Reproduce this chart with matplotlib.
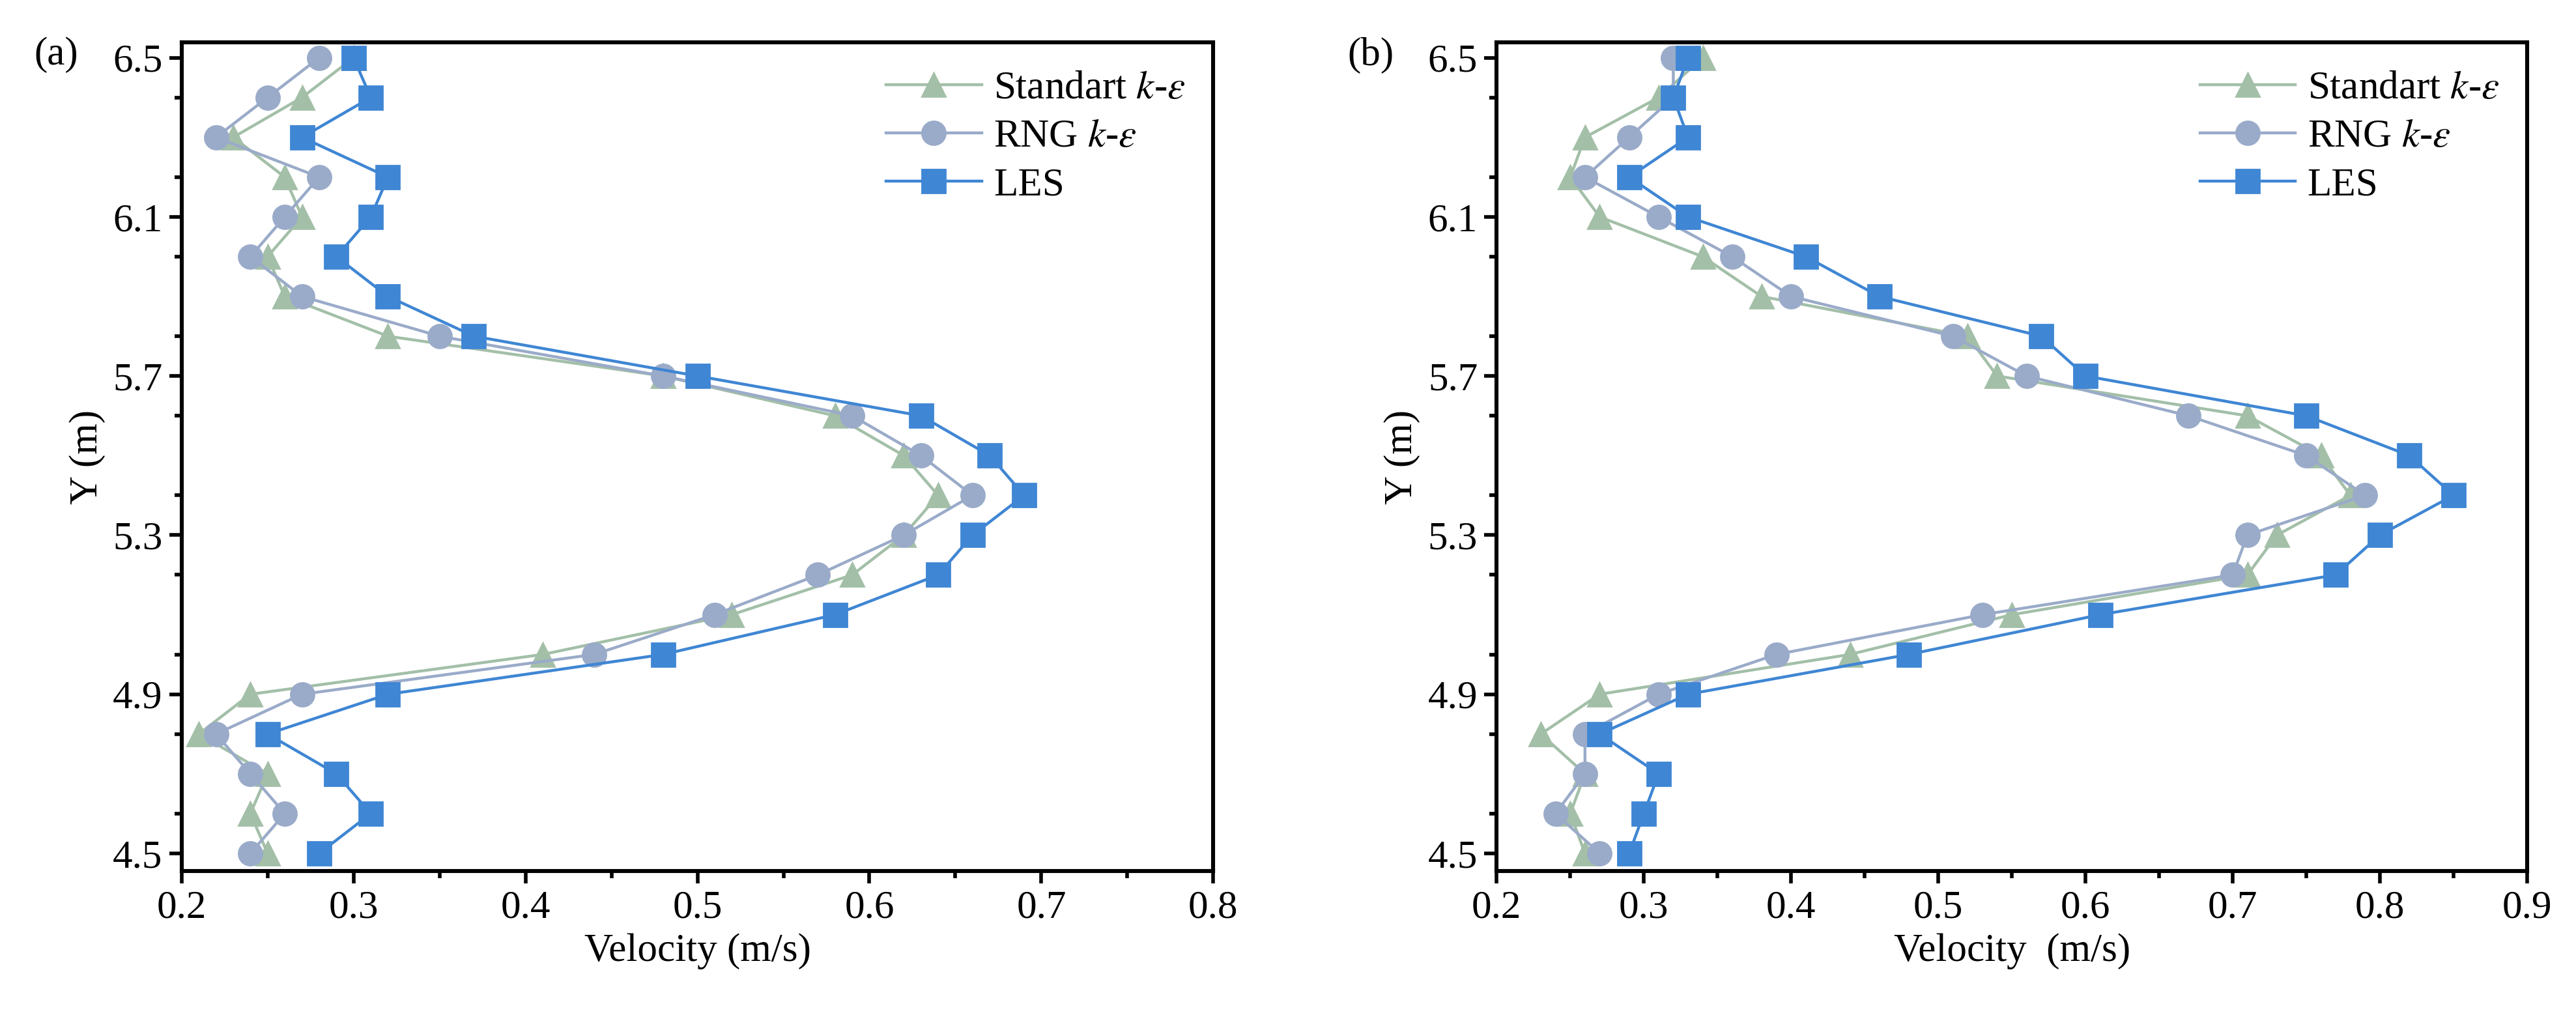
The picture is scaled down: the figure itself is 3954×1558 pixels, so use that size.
import matplotlib
matplotlib.use("Agg")
import matplotlib.pyplot as plt
from matplotlib.ticker import MultipleLocator

plt.rcParams['font.family'] = 'serif'
plt.rcParams['font.serif'] = ['Liberation Serif', 'DejaVu Serif']
plt.rcParams['mathtext.fontset'] = 'stix'

y = [6.5, 6.4, 6.3, 6.2, 6.1, 6.0, 5.9, 5.8, 5.7, 5.6, 5.5, 5.4, 5.3, 5.2, 5.1, 5.0, 4.9, 4.8, 4.7, 4.6, 4.5]

a_std = [0.30, 0.27, 0.23, 0.26, 0.27, 0.25, 0.26, 0.32, 0.48, 0.58, 0.62, 0.64, 0.62, 0.59, 0.52, 0.41, 0.24, 0.21, 0.25, 0.24, 0.25]
a_rng = [0.28, 0.25, 0.22, 0.28, 0.26, 0.24, 0.27, 0.35, 0.48, 0.59, 0.63, 0.66, 0.62, 0.57, 0.51, 0.44, 0.27, 0.22, 0.24, 0.26, 0.24]
a_les = [0.30, 0.31, 0.27, 0.32, 0.31, 0.29, 0.32, 0.37, 0.50, 0.63, 0.67, 0.69, 0.66, 0.64, 0.58, 0.48, 0.32, 0.25, 0.29, 0.31, 0.28]

b_std = [0.34, 0.31, 0.26, 0.25, 0.27, 0.34, 0.38, 0.52, 0.54, 0.71, 0.76, 0.78, 0.73, 0.71, 0.55, 0.44, 0.27, 0.23, 0.26, 0.25, 0.26]
b_rng = [0.32, 0.32, 0.29, 0.26, 0.31, 0.36, 0.40, 0.51, 0.56, 0.67, 0.75, 0.79, 0.71, 0.70, 0.53, 0.39, 0.31, 0.26, 0.26, 0.24, 0.27]
b_les = [0.33, 0.32, 0.33, 0.29, 0.33, 0.41, 0.46, 0.57, 0.60, 0.75, 0.82, 0.85, 0.80, 0.77, 0.61, 0.48, 0.33, 0.27, 0.31, 0.30, 0.29]

labels = ['Standart $k$-$\\varepsilon$', 'RNG $k$-$\\varepsilon$', 'LES']
colors = ['#a3bfa8', '#9aabc9', '#3f86d4']
markers = ['^', 'o', 's']

fig = plt.figure(figsize=(19.77, 7.79), dpi=200)
axes = [fig.add_axes([0.0705, 0.142, 0.4005, 0.816]),
        fig.add_axes([0.581, 0.142, 0.400, 0.816])]

panels = [(a_std, a_rng, a_les, 0.8, '(a)', 'Velocity (m/s)'),
          (b_std, b_rng, b_les, 0.9, '(b)', 'Velocity  (m/s)')]

for ax, (s, r, l, xmax, tag, xl) in zip(axes, panels):
    for data, lab, c, m in zip([s, r, l], labels, colors, markers):
        ax.plot(data, y, color=c, marker=m, markersize=13, lw=1.6, label=lab)
    ax.set_xlim(0.2, xmax)
    ax.set_ylim(4.456, 6.538)
    ax.xaxis.set_major_locator(MultipleLocator(0.1))
    ax.xaxis.set_minor_locator(MultipleLocator(0.05))
    ax.set_yticks([4.5, 4.9, 5.3, 5.7, 6.1, 6.5])
    ax.yaxis.set_minor_locator(MultipleLocator(0.2))
    ax.tick_params(which='major', direction='out', length=7, width=2, labelsize=22)
    ax.tick_params(which='minor', direction='out', length=4, width=2)
    for sp in ax.spines.values():
        sp.set_linewidth(2.2)
    ax.set_xlabel(xl, fontsize=22, labelpad=4)
    ax.set_ylabel('Y (m)', fontsize=22, labelpad=4)
    ax.legend(loc='upper right', frameon=False, fontsize=22, handlelength=2.4,
              borderaxespad=0.3, labelspacing=0.3, handletextpad=0.3)
    ax.text(-0.10, 0.985, tag, transform=ax.transAxes, fontsize=22, ha='right', va='center')

fig.savefig('out.png', dpi=200)
